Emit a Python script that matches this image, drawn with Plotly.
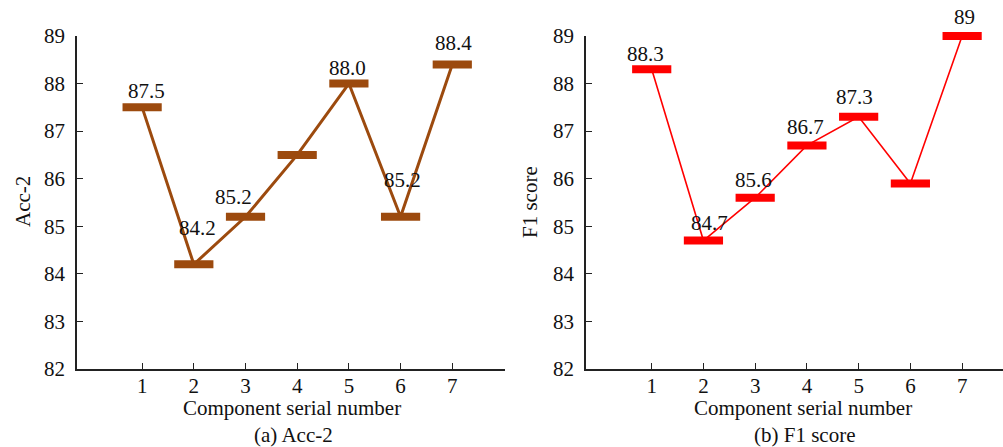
import plotly.graph_objects as go

# Component serial numbers shared by both panels
components = [1, 2, 3, 4, 5, 6, 7]

# Panel (a): Acc-2 per component
acc2 = [87.5, 84.2, 85.2, 86.5, 88.0, 85.2, 88.4]
acc2_labelled = [True, True, True, False, True, True, True]

# Panel (b): F1 score per component
f1 = [88.3, 84.7, 85.6, 86.7, 87.3, 85.9, 89]
f1_labelled = [True, True, True, True, True, False, True]

y_ticks = [82, 83, 84, 85, 86, 87, 88, 89]

# pixel offsets of the value labels relative to their markers
acc2_label_dx = [4, 4, -12, 0, -1, 2, 1]
acc2_label_dy = [-16, -36, -20, 0, -16, -37, -22]
f1_label_dx = [-6, 6, -2, -1, -4, 0, 2]
f1_label_dy = [-15, -18, -18, -18, -20, 0, -19]

FONT = "Liberation Serif, Times New Roman, serif"
FS = 21
W, H = 1003, 447
BROWN = "#9C4A0E"
RED = "#FF0000"
AXIS = "#222222"
TXT = "#111111"


def px(v, total):
    return v / total


fig = go.Figure()

fig.add_trace(go.Scatter(
    x=components, y=acc2, xaxis="x", yaxis="y", mode="lines+markers",
    line=dict(color=BROWN, width=3),
    marker=dict(symbol="line-ew", size=28, color=BROWN,
                line=dict(color=BROWN, width=8)),
    cliponaxis=False, showlegend=False,
))
fig.add_trace(go.Scatter(
    x=components, y=f1, xaxis="x2", yaxis="y2", mode="lines+markers",
    line=dict(color=RED, width=1.6),
    marker=dict(symbol="line-ew", size=28, color=RED,
                line=dict(color=RED, width=8)),
    cliponaxis=False, showlegend=False,
))

annotations = []
for xv, yv, show, dx, dy in zip(components, acc2, acc2_labelled, acc2_label_dx, acc2_label_dy):
    if show:
        annotations.append(dict(
            x=xv, y=yv, xref="x", yref="y", text=f"{yv:.1f}", showarrow=False,
            xshift=dx, yshift=-dy, font=dict(family=FONT, size=FS, color=TXT),
            xanchor="center", yanchor="middle"))
for xv, yv, show, dx, dy in zip(components, f1, f1_labelled, f1_label_dx, f1_label_dy):
    if show:
        annotations.append(dict(
            x=xv, y=yv, xref="x2", yref="y2", text=f"{yv:g}", showarrow=False,
            xshift=dx, yshift=-dy, font=dict(family=FONT, size=FS, color=TXT),
            xanchor="center", yanchor="middle"))

# axis titles and panel captions
text_items = [
    ("Component serial number", 292, 408, 0),
    ("(a) Acc-2", 293, 435, 0),
    ("Component serial number", 803, 408, 0),
    ("(b) F1 score", 804, 435, 0),
    ("Acc-2", 23, 202, -90),
    ("F1 score", 530, 202, -90),
]
for txt, cx, cy, ang in text_items:
    annotations.append(dict(
        x=px(cx, W), y=1 - px(cy, H), xref="paper", yref="paper", text=txt,
        showarrow=False, textangle=ang, xanchor="center", yanchor="middle",
        font=dict(family=FONT, size=FS, color=TXT)))

axis_common = dict(
    showline=True, linecolor=AXIS, linewidth=1.6, showgrid=False, zeroline=False,
    ticks="inside", ticklen=6, tickwidth=1.4, tickcolor=AXIS, automargin=False,
    tickfont=dict(family=FONT, size=FS, color=TXT),
)

y_dom = [1 - px(369, H), 1 - px(36, H)]

fig.update_layout(
    template="none",
    width=W, height=H, margin=dict(l=0, r=0, t=0, b=0, autoexpand=False),
    font=dict(family=FONT, size=FS, color=TXT),
    paper_bgcolor="white", plot_bgcolor="white",
    xaxis=dict(domain=[px(77, W), px(505, W)], range=[-0.26, 8.02],
               tickvals=components, anchor="y", ticklabelstandoff=-3, **axis_common),
    yaxis=dict(domain=y_dom, range=[82, 89], tickvals=y_ticks, anchor="x",
               ticklabelstandoff=6, **axis_common),
    xaxis2=dict(domain=[px(586, W), 1.0], range=[-0.27, 7.79],
                tickvals=components, anchor="y2", ticklabelstandoff=-3, **axis_common),
    yaxis2=dict(domain=y_dom, range=[82, 89], tickvals=y_ticks, anchor="x2",
                ticklabelstandoff=6, **axis_common),
    annotations=annotations,
)

fig.write_html("out.html")
